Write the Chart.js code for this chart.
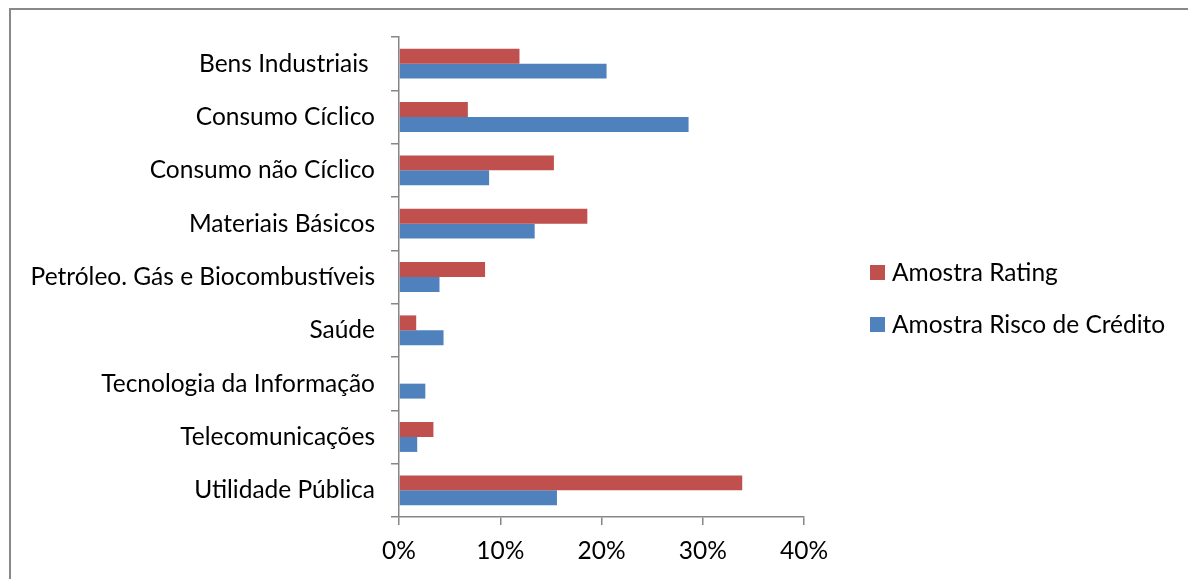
<!DOCTYPE html>
<html>
<head>
<meta charset="utf-8">
<script src="https://cdn.jsdelivr.net/npm/chart.js@4/dist/chart.umd.min.js"></script>
<style>
    html, body { margin: 0; padding: 0; background: #fff; overflow: hidden; }
    #wrap { position: relative; width: 1188px; height: 579px; }
    #frame {
        position: absolute; left: 9px; top: 8px; width: 1300px; height: 700px;
        border: 2px solid #898989; box-sizing: border-box;
    }
    canvas { position: absolute; left: 0; top: 0; }
</style>
</head>
<body>
<div id="wrap">
    <div id="frame"></div>
    <canvas id="chart" width="1188" height="579"></canvas>
</div>
<script>
// Sector labels (trailing space on the first one is in the original)
const categories = [
    'Bens Industriais ',
    'Consumo Cíclico',
    'Consumo não Cíclico',
    'Materiais Básicos',
    'Petróleo. Gás e Biocombustíveis',
    'Saúde',
    'Tecnologia da Informação',
    'Telecomunicações',
    'Utilidade Pública'
];

// Share of each sample, in percent
const amostraRating = [11.9, 6.8, 15.3, 18.6, 8.5, 1.7, 0, 3.4, 33.9];
const amostraRisco = [20.5, 28.6, 8.9, 13.4, 4.0, 4.4, 2.6, 1.8, 15.6];

const xTicks = [0, 10, 20, 30, 40];

const RED = '#C0504D';
const BLUE = '#4F81BD';
const AXIS = '#868686';
const FONT = 'Lato, "Open Sans", sans-serif';
const FONT_SIZE = 24.5;

// Legend drawn at a fixed spot to the right of the plot
const sideLegend = {
    id: 'sideLegend',
    afterDraw(chart) {
        const ctx = chart.ctx;
        ctx.save();
        ctx.font = FONT_SIZE + 'px ' + FONT;
        ctx.textBaseline = 'middle';
        ctx.textAlign = 'left';
        chart.data.datasets.forEach((ds, i) => {
            const y = 265 + i * 52;
            ctx.fillStyle = ds.backgroundColor;
            ctx.fillRect(870, y, 15, 15);
            ctx.fillStyle = '#000';
            ctx.fillText(ds.label, 892, y + 8);
        });
        ctx.restore();
    }
};

new Chart(document.getElementById('chart').getContext('2d'), {
    type: 'bar',
    data: {
        labels: categories,
        datasets: [
            {
                label: 'Amostra Rating',
                data: amostraRating,
                backgroundColor: RED,
                categoryPercentage: 0.56,
                barPercentage: 1.0
            },
            {
                label: 'Amostra Risco de Crédito',
                data: amostraRisco,
                backgroundColor: BLUE,
                categoryPercentage: 0.56,
                barPercentage: 1.0
            }
        ]
    },
    options: {
        indexAxis: 'y',
        responsive: false,
        animation: false,
        layout: {
            padding: { left: 0, top: 37, right: 384, bottom: 12 }
        },
        plugins: {
            legend: { display: false },
            tooltip: { enabled: false }
        },
        scales: {
            x: {
                min: 0,
                max: 40,
                afterBuildTicks(scale) {
                    scale.ticks = xTicks.map(v => ({ value: v }));
                },
                afterFit(scale) { scale.height = 50; },
                border: { color: AXIS, width: 1.5 },
                grid: {
                    drawOnChartArea: false,
                    color: AXIS,
                    lineWidth: 1.5,
                    tickLength: 8
                },
                ticks: {
                    color: '#000',
                    padding: 11,
                    maxRotation: 0,
                    font: { family: FONT, size: FONT_SIZE },
                    callback: v => v + '%'
                }
            },
            y: {
                afterFit(scale) { scale.width = 399; },
                border: { color: AXIS, width: 1.5 },
                grid: {
                    drawOnChartArea: false,
                    color: AXIS,
                    lineWidth: 1.5,
                    tickLength: 8
                },
                ticks: {
                    color: '#000',
                    padding: 16,
                    font: { family: FONT, size: FONT_SIZE }
                }
            }
        }
    },
    plugins: [sideLegend]
});
</script>
</body>
</html>
